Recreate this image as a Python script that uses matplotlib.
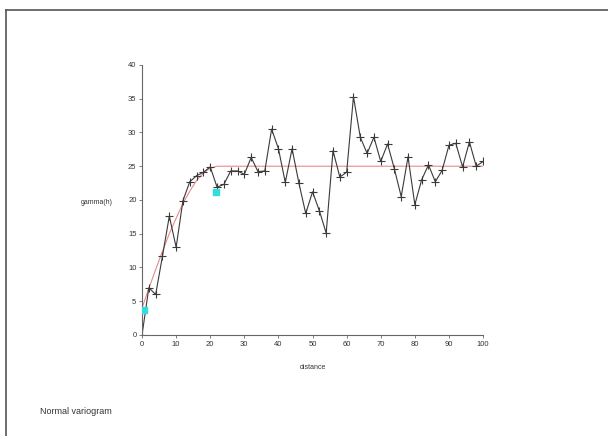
import matplotlib
matplotlib.use("Agg")
import matplotlib.pyplot as plt
from matplotlib.lines import Line2D

plt.rcParams['font.family'] = ['Liberation Sans', 'DejaVu Sans']

distance = [0, 2, 4, 6, 8, 10, 12, 14, 16, 18, 20, 22, 24, 26, 28, 30, 32, 34, 36, 38,
            40, 42, 44, 46, 48, 50, 52, 54, 56, 58, 60, 62, 64, 66, 68, 70, 72, 74, 76, 78,
            80, 82, 84, 86, 88, 90, 92, 94, 96, 98, 100]
gamma = [0.0, 7.0, 6.0, 11.7, 17.6, 13.0, 19.9, 22.7, 23.6, 24.1, 24.9, 21.9, 22.3, 24.3, 24.3,
         23.8, 26.3, 24.2, 24.3, 30.5, 27.6, 22.6, 27.6, 22.5, 18.0, 21.2, 18.4, 15.1, 27.3,
         23.4, 24.1, 35.3, 29.3, 26.9, 29.3, 25.7, 28.3, 24.6, 20.5, 26.4, 19.3, 23.0, 25.2,
         22.7, 24.4, 28.1, 28.4, 24.9, 28.6, 25.0, 25.7]

# fitted model curve
model_h = [0, 2, 4, 6, 8, 10, 12, 14, 16, 18, 20, 22, 100]
model_gamma = [4.0, 6.9, 9.7, 12.4, 15.0, 17.3, 19.5, 21.3, 22.9, 24.0, 24.7, 25.0, 25.0]

# highlighted points
cyan_h = [0.6, 21.7]
cyan_gamma = [3.7, 21.2]

xticks = [0, 10, 20, 30, 40, 50, 60, 70, 80, 90, 100]
yticks = [0, 5, 10, 15, 20, 25, 30, 35, 40]

fig = plt.figure(figsize=(6.08, 4.36), dpi=100)
ax = fig.add_axes([0.2336, 0.2317, 0.5609, 0.6193])

ax.plot(model_h, model_gamma, color='#e88a8a', lw=0.8, zorder=1)
ax.plot(distance, gamma, color='#3a3a3a', lw=0.8, marker='+', ms=5.5, mew=0.8, zorder=2)
ax.plot(cyan_h, cyan_gamma, ls='none', marker='s', ms=4, color='#33dddd', zorder=3)

ax.set_xlim(0, 100)
ax.set_ylim(0, 40)
ax.set_xticks(xticks)
ax.set_yticks(yticks)
ax.tick_params(labelsize=5.5, length=2.5, width=0.6, color='#666666', labelcolor='#333333', pad=1.5)
for side in ['top', 'right']:
    ax.spines[side].set_visible(False)
for side in ['left', 'bottom']:
    ax.spines[side].set_color('#666666')
    ax.spines[side].set_linewidth(0.8)

fig.text(0.185, 1 - 202 / 436, 'gamma(h)', fontsize=5, ha='right', va='center', color='#333333')
fig.text(312.5 / 608, 1 - 367 / 436, 'distance', fontsize=5, ha='center', va='center', color='#333333')
fig.text(40 / 608, 1 - 411.5 / 436, 'Normal variogram', fontsize=6.5, ha='left', va='center', color='#333333')

# frame lines at top and left of the window
fig.add_artist(Line2D([6 / 608, 1], [1 - 10 / 436, 1 - 10 / 436], color='#555555', lw=1.2))
fig.add_artist(Line2D([6 / 608, 6 / 608], [0, 1 - 10 / 436], color='#555555', lw=1.2))

fig.savefig('out.png', dpi=100)
